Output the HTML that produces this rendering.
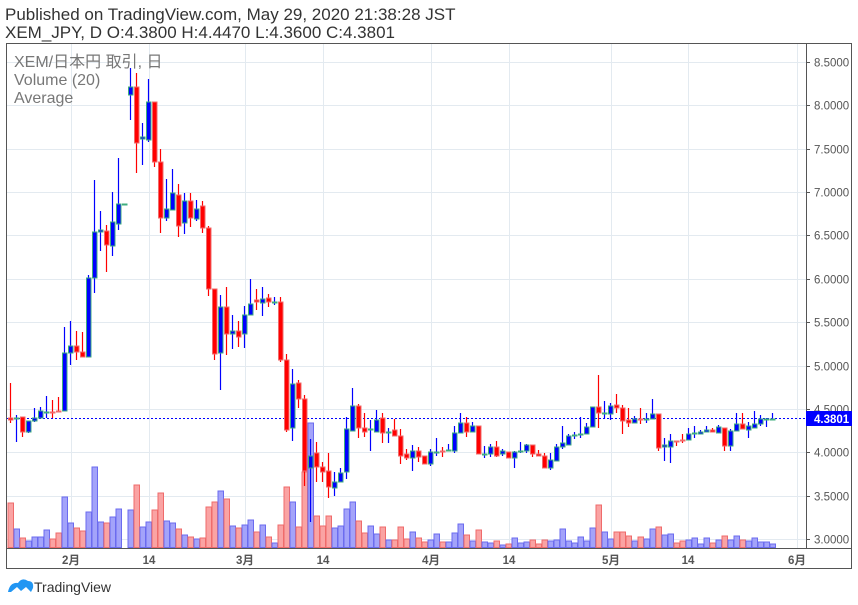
<!DOCTYPE html>
<html><head><meta charset="utf-8"><style>
body{margin:0;background:#fff;width:858px;height:605px;overflow:hidden;font-family:"Liberation Sans","Noto Sans CJK JP",sans-serif}
.t{position:absolute;left:5px;font-size:17px;color:#333;white-space:nowrap}
</style></head><body>
<div class="t" style="top:5px">Published on TradingView.com, May 29, 2020 21:38:28 JST</div>
<div class="t" style="top:23px">XEM_JPY, D O:4.3800 H:4.4470 L:4.3600 C:4.3801</div>
<svg id="s" width="858" height="605" style="position:absolute;left:0;top:0" xmlns="http://www.w3.org/2000/svg" font-family="Liberation Sans, Noto Sans CJK JP, sans-serif">
<g id="grid" stroke="#e3eaf0" stroke-width="1"></g>
<g id="vol"></g>
<line x1="7" y1="418.5" x2="806" y2="418.5" stroke="#0000ff" stroke-dasharray="2,2" stroke-width="1"/>
<g id="cdl"></g>
<rect x="6.5" y="43.5" width="845" height="525" fill="none" stroke="#555" stroke-width="1"/>
<line x1="806.5" y1="43" x2="806.5" y2="548" stroke="#555"/>
<line x1="6" y1="548.5" x2="852" y2="548.5" stroke="#555"/>
<g id="ax" font-size="11.5" fill="#555"></g>
<rect x="806" y="411" width="46" height="15" fill="#0000ff"/>
<text x="814" y="423" font-size="11.5" fill="#fff" font-weight="bold">4.3801</text>
<g font-size="16" fill="#777">
<text x="14" y="67">XEM/日本円 取引, 日</text>
<text x="14" y="85">Volume (20)</text>
<text x="14" y="103">Average</text>
</g>
<g font-size="11.5" fill="#555" font-weight="bold" text-anchor="middle">
<text x="71" y="564">2月</text><text x="149" y="564">14</text><text x="245" y="564">3月</text><text x="323" y="564">14</text><text x="431" y="564">4月</text><text x="509" y="564">14</text><text x="611" y="564">5月</text><text x="688" y="564">14</text><text x="797" y="564">6月</text>
</g>
<path d="M8 592 q2-10 10-9 q4-6 10-2 q6 0 5 7 l-2 4 -5-5 -5 4 -4-4 -6 5z" fill="#2196f3"/>
<text x="34" y="592" font-size="14" fill="#333">TradingView</text>
</svg>
<script>
var D=[[418,420,383,423,503,0],[418,419,415,442,529,1],[417,432,417,437,538,0],[421,432,421,433,541,1],[418,421,408,422,537,1],[411,418,407,418,537,1],[412,413,396,418,530,1],[412,413,400,418,539,0],[411,412,397,412,533,0],[353,411,327,411,497,1],[346,353,321,365,523,1],[346,352,331,360,528,0],[352,357,332,357,531,0],[278,357,275,357,512,1],[232,278,180,293,467,1],[230,232,211,251,522,1],[231,245,225,272,523,0],[222,246,192,256,517,1],[204,224,158,230,509,1],[204,205,204,205,548,1],[87,95,68,120,510,1],[87,143,73,173,485,0],[137,139,123,165,527,1],[102,140,79,142,522,1],[102,162,102,167,510,0],[162,218,149,233,493,0],[209,218,179,221,521,1],[193,210,169,210,523,1],[195,226,184,237,529,0],[201,223,193,234,535,1],[201,218,193,227,537,0],[209,219,200,221,539,1],[206,228,201,233,538,0],[228,289,226,296,507,0],[289,354,289,360,502,0],[307,353,295,390,491,1],[307,334,287,355,499,0],[331,334,315,349,526,1],[331,337,321,347,528,0],[315,334,306,348,525,1],[304,315,279,315,520,1],[300,302,289,310,532,0],[299,303,287,316,525,1],[298,302,294,307,537,0],[302,303,297,305,543,1],[302,360,297,362,525,0],[360,430,354,432,487,0],[384,428,369,441,502,1],[383,399,380,408,527,0],[399,471,395,486,472,0],[456,468,439,522,423,1],[453,467,442,482,516,0],[467,472,462,482,526,0],[471,487,453,498,516,0],[482,488,472,496,528,1],[473,482,468,482,526,1],[429,472,417,479,509,1],[406,431,388,431,502,1],[406,428,404,438,521,0],[428,432,413,437,533,0],[429,430,420,451,526,1],[420,432,410,432,534,1],[418,433,413,443,527,0],[432,433,428,443,540,1],[430,436,419,436,540,0],[436,456,429,464,527,0],[454,458,449,460,539,0],[451,458,445,471,532,1],[451,457,447,462,538,0],[456,464,456,464,542,0],[452,464,449,466,540,1],[452,453,438,456,534,1],[451,452,447,457,542,0],[450,451,444,451,542,1],[433,451,426,453,533,1],[423,433,413,433,524,1],[423,432,417,437,535,0],[426,432,422,432,541,1],[426,454,426,454,530,0],[454,455,446,458,542,1],[447,454,444,457,543,1],[447,456,441,457,541,0],[451,454,449,456,545,1],[452,458,452,458,544,0],[452,458,451,468,538,1],[451,452,442,453,543,1],[445,451,444,453,542,1],[445,454,445,457,540,0],[454,456,450,456,544,0],[456,468,453,468,540,0],[460,468,453,470,541,1],[447,461,444,461,540,1],[443,447,426,449,529,1],[436,445,434,445,541,1],[435,436,432,439,543,1],[434,435,417,438,537,1],[427,434,423,434,541,1],[407,427,407,427,528,1],[407,413,375,428,505,0],[413,414,401,419,532,1],[406,414,403,420,539,1],[405,408,394,413,532,0],[408,421,405,434,532,0],[420,423,408,427,536,0],[419,423,416,423,541,1],[419,420,408,424,537,0],[419,420,413,423,539,1],[414,419,399,419,529,1],[414,448,414,451,527,0],[445,447,438,461,535,1],[441,447,434,463,534,1],[441,442,441,446,543,0],[440,441,434,443,541,0],[434,440,428,440,540,1],[433,434,426,438,538,1],[432,434,430,434,544,1],[430,432,426,432,538,1],[430,432,428,432,543,0],[427,433,425,433,540,1],[428,446,428,451,536,0],[431,446,429,451,540,1],[424,431,413,431,536,1],[424,429,413,429,540,0],[426,430,422,438,541,1],[424,428,411,428,538,1],[419,424,415,426,542,1],[419,420,418,427,542,1],[419,420,413,420,544,1]];
var NS="http://www.w3.org/2000/svg";
function el(g,t,a){var e=document.createElementNS(NS,t);for(var k in a)e.setAttribute(k,a[k]);document.getElementById(g).appendChild(e);return e;}
var i,y;
for(i=0;i<12;i++){y=Math.round(62+43.36*i)+0.5;el("grid","line",{x1:7,y1:y,x2:806,y2:y});
 el("ax","line",{x1:806,y1:y,x2:810,y2:y,stroke:"#555"});
 var tx=el("ax","text",{x:814,y:y+4});tx.textContent=(8.5-0.5*i).toFixed(4);}
[71,149,245,323,431,509,611,688,797].forEach(function(x){el("grid","line",{x1:x+0.5,y1:44,x2:x+0.5,y2:548});});
for(i=0;i<D.length;i++){var d=D[i],cx=10.5+6*i,u=d[5];
 if(d[4]<547)el("vol","rect",{x:cx-2.5,y:d[4],width:5.5,height:547.5-d[4],fill:u?"#a3a3fa":"#faa3a3",stroke:u?"#6b6bef":"#ef6b6b","stroke-width":1});
 var col=u?"#0000ff":"#ff0000";
 el("cdl","line",{x1:cx,y1:d[2],x2:cx,y2:d[3],stroke:col,"stroke-width":1.2});
 var h=d[1]-d[0];if(h<1)h=1;
 el("cdl","rect",{x:cx-2,y:d[0],width:4.5,height:h,fill:col,stroke:u?"#3fae7e":"#f06b6b","stroke-width":1});}
</script>
</body></html>
